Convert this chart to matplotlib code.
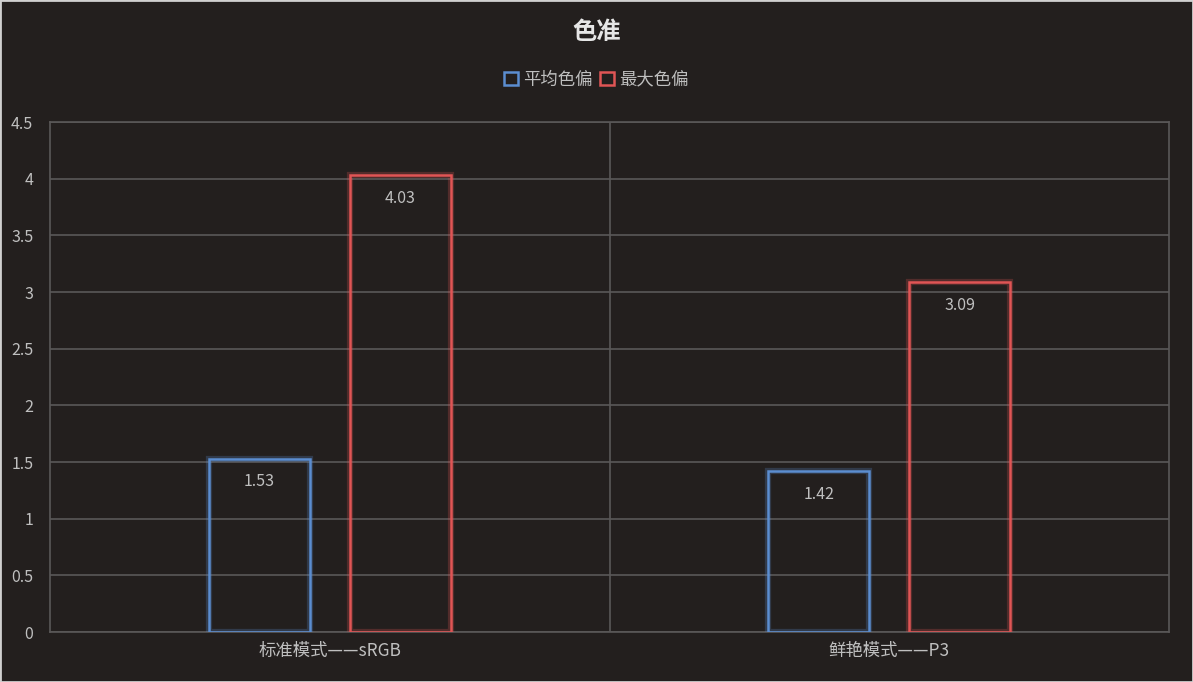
import numpy as np
import matplotlib.pyplot as plt

plt.rcParams['font.family'] = ['Noto Sans CJK SC', 'DejaVu Sans']

categories = ['标准模式——sRGB', '鲜艳模式——P3']
avg_dE = [1.53, 1.42]
max_dE = [4.03, 3.09]
series_names = ['平均色偏', '最大色偏']
yticks = [0, 0.5, 1, 1.5, 2, 2.5, 3, 3.5, 4, 4.5]

bg = '#231f1e'
grid_c = '#5a5858'
txt_c = '#bfbfbf'
blue = '#5b8dd0'
red = '#e05555'

fig = plt.figure(figsize=(11.93, 6.82), dpi=100, facecolor=bg)
ax = fig.add_axes([0.0419, 0.0733, 0.9380, 0.7478])
ax.set_facecolor(bg)

x = np.arange(len(categories))
w = 0.18
off = 0.126

for vals, dx, col, name in [(avg_dE, -off, blue, series_names[0]), (max_dE, off, red, series_names[1])]:
    # soft glow under the outline
    ax.bar(x + dx, vals, w, facecolor='none', edgecolor=col, linewidth=4.5, alpha=0.25, zorder=3)
    ax.bar(x + dx, vals, w, facecolor='none', edgecolor=col, linewidth=1.8, zorder=4, label=name)
    for xi, v in zip(x + dx, vals):
        ax.text(xi, v - 0.13, f'{v:.2f}', ha='center', va='top', color=txt_c, fontsize=11.5, zorder=5)

ax.set_xlim(-0.5, 1.5)
ax.set_ylim(0, 4.5)
ax.set_yticks(yticks)
ax.set_yticklabels([f'{t:g}' for t in yticks])
ax.set_xticks(x)
ax.set_xticklabels(categories)
ax.tick_params(colors=txt_c, length=0)
ax.tick_params(axis='y', labelsize=11.5, pad=12)
ax.tick_params(axis='x', labelsize=12.5, pad=7)
ax.yaxis.grid(True, color=grid_c, linewidth=1.2, zorder=1)
for xv in [0.5]:
    ax.axvline(xv, color=grid_c, linewidth=1.2, zorder=1)
for s in ax.spines.values():
    s.set_color(grid_c)
    s.set_linewidth(1.2)

fig.text(0.5, 0.953, '色准', ha='center', va='center', color='#e6e6e6', fontsize=17.5, fontweight='bold')
leg = fig.legend(loc='center', bbox_to_anchor=(0.5, 0.883), ncol=2, frameon=False,
                 fontsize=12.5, labelcolor=txt_c, handlelength=0.8, handleheight=0.8,
                 handletextpad=0.3, columnspacing=0.4)

# light frame around the whole picture
fig.patches.append(plt.Rectangle((0, 0), 1, 1, transform=fig.transFigure, fill=False,
                                 edgecolor='#d0d0d0', linewidth=2))

fig.savefig('out.png', dpi=100, facecolor=bg)
